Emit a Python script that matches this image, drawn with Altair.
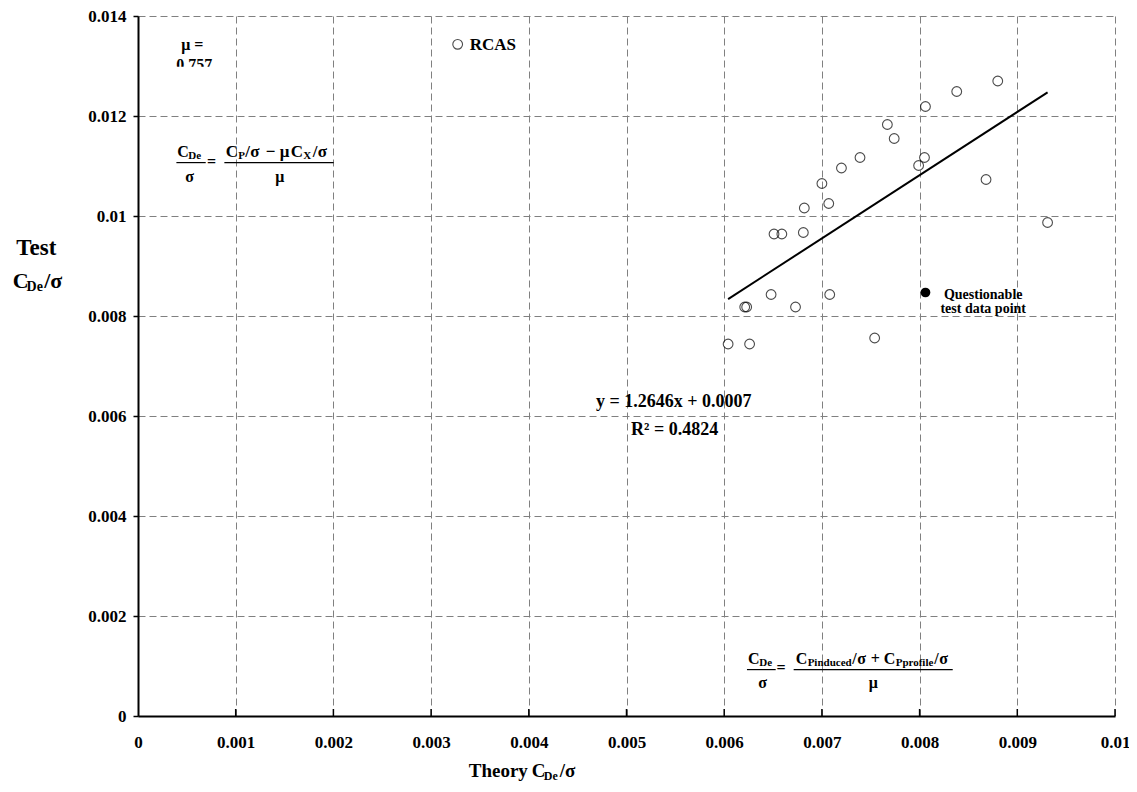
import altair as alt
import pandas as pd

# ---- data ----
theory_x = [0.00880, 0.00838, 0.00806, 0.00767, 0.00774, 0.00739, 0.00805, 0.00799,
            0.00720, 0.00868, 0.00700, 0.00707, 0.00682, 0.00931, 0.00651, 0.00659,
            0.00681, 0.00648, 0.00708, 0.00621, 0.00623, 0.00673, 0.00604, 0.00626,
            0.00754]
test_y = [0.01270, 0.01249, 0.01219, 0.01183, 0.01155, 0.01117, 0.01117, 0.01101,
          0.01096, 0.01073, 0.01065, 0.01025, 0.01016, 0.00987, 0.00964, 0.00964,
          0.00967, 0.00843, 0.00843, 0.00818, 0.00818, 0.00818, 0.00744, 0.00744,
          0.00756]
questionable_x = [0.00806]
questionable_y = [0.00847]
slope = 1.2646
intercept = 0.0007
x_ticks = [0, 0.001, 0.002, 0.003, 0.004, 0.005, 0.006, 0.007, 0.008, 0.009, 0.01]
y_ticks = [0, 0.002, 0.004, 0.006, 0.008, 0.010, 0.012, 0.014]

FONT = "Liberation Serif"
W, H = 977, 700
X_DOM = [0, 0.01]
Y_DOM = [0, 0.014]
xs = alt.Scale(domain=X_DOM, nice=False, zero=False)
ys = alt.Scale(domain=Y_DOM, nice=False, zero=False)


def px(v):
    return (v - X_DOM[0]) / (X_DOM[1] - X_DOM[0]) * W


def py(v):
    return H - (v - Y_DOM[0]) / (Y_DOM[1] - Y_DOM[0]) * H


x_axis = alt.Axis(values=x_ticks, format="~g", title=None, grid=True, ticks=False,
                  labelPadding=18)
y_axis = alt.Axis(values=y_ticks, format="~g", title=None, grid=True, ticks=True,
                  tickSize=5, labelPadding=7)

pts = pd.DataFrame({"x": theory_x, "y": test_y})
qpts = pd.DataFrame({"x": questionable_x, "y": questionable_y})
line_df = pd.DataFrame({"x": [min(theory_x), max(theory_x)]})
tick_df = pd.DataFrame({"x": x_ticks[1:]})

one = alt.Data(values=[{}])


def txt(x, y, s, size=16, align="left"):
    return alt.Chart(one).mark_text(
        text=s, font=FONT, fontSize=size, fontWeight="bold", align=align,
        baseline="alphabetic", color="black"
    ).encode(x=alt.value(px(x)), y=alt.value(py(y)))


def bar(x1, x2, y):
    return alt.Chart(one).mark_rule(color="black", strokeWidth=1.2).encode(
        x=alt.value(px(x1)), x2=alt.value(px(x2)), y=alt.value(py(y)))


scatter = alt.Chart(pts).mark_point(
    shape="circle", filled=False, color="black", size=95, strokeWidth=1.1
).encode(
    x=alt.X("x:Q", scale=xs, axis=x_axis),
    y=alt.Y("y:Q", scale=ys, axis=y_axis),
)

qscatter = alt.Chart(qpts).mark_point(
    shape="circle", filled=True, color="black", size=95, opacity=1
).encode(x=alt.X("x:Q", scale=xs), y=alt.Y("y:Q", scale=ys))

trend = alt.Chart(line_df).transform_calculate(
    y=f"{slope} * datum.x + {intercept}"
).mark_line(color="black", strokeWidth=2).encode(
    x=alt.X("x:Q", scale=xs), y=alt.Y("y:Q", scale=ys))

inner_ticks = alt.Chart(tick_df).mark_rule(color="black", strokeWidth=1.5).encode(
    x=alt.X("x:Q", scale=xs), y=alt.value(H), y2=alt.value(H - 7))

legend_pt = alt.Chart(one).mark_point(
    shape="circle", filled=False, color="black", size=95, strokeWidth=1.1
).encode(x=alt.value(px(0.003272)), y=alt.value(py(0.013434)))

cover = alt.Chart(one).mark_rect(color="white").encode(
    x=alt.value(px(0.000345)), x2=alt.value(px(0.000857)),
    y=alt.value(py(0.012984)), y2=alt.value(py(0.012714)))

layers = [scatter, inner_ticks, trend, qscatter, legend_pt,
          txt(0.003395, 0.013314, "RCAS", 17),
          txt(0.000555, 0.013314, "μ =", 16, "center"),
          txt(0.000575, 0.012914, "0.757", 16, "center"),
          cover,
          # formula 1
          txt(0.000403, 0.011174, "C", 16),
          txt(0.000515, 0.011134, "De", 11),
          bar(0.000393, 0.000693, 0.011068),
          txt(0.000529, 0.010674, "σ", 16, "center"),
          txt(0.000754, 0.010974, "=", 16, "center"),
          txt(0.000898, 0.011174, "C", 17),
          txt(0.001026, 0.011134, "P", 11),
          txt(0.001097, 0.011174, "/", 17),
          txt(0.001148, 0.011174, "σ", 17),
          txt(0.001307, 0.011174, "−", 17),
          txt(0.001450, 0.011174, "μ", 17),
          txt(0.001563, 0.011174, "C", 17),
          txt(0.001691, 0.011134, "X", 11),
          txt(0.001788, 0.011174, "/", 17),
          txt(0.001839, 0.011174, "σ", 17),
          bar(0.000884, 0.002003, 0.011068),
          txt(0.001450, 0.010674, "μ", 16, "center"),
          # formula 2
          txt(0.006244, 0.001034, "C", 16),
          txt(0.006360, 0.000994, "De", 11),
          bar(0.006233, 0.006527, 0.000928),
          txt(0.006394, 0.000554, "σ", 16, "center"),
          txt(0.006583, 0.000854, "=", 16, "center"),
          txt(0.006732, 0.001034, "C", 16),
          txt(0.006854, 0.000994, "Pinduced", 11),
          txt(0.007310, 0.001034, "/", 16),
          txt(0.007361, 0.001034, "σ", 16),
          txt(0.007500, 0.001034, "+", 16),
          txt(0.007633, 0.001034, "C", 16),
          txt(0.007755, 0.000994, "Pprofile", 11),
          txt(0.008149, 0.001034, "/", 16),
          txt(0.008201, 0.001034, "σ", 16),
          bar(0.006711, 0.008339, 0.000928),
          txt(0.007525, 0.000554, "μ", 16, "center"),
          # regression text
          txt(0.005483, 0.006180, "y = 1.2646x + 0.0007", 18, "center"),
          txt(0.005493, 0.005614, "R² = 0.4824", 18, "center"),
          # questionable
          txt(0.008651, 0.008348, "Questionable", 14, "center"),
          txt(0.008651, 0.008054, "test data point", 14, "center"),
          # y title
          txt(-0.001040, 0.009214, "Test", 23, "center"),
          txt(-0.001283, 0.008554, "C", 22),
          txt(-0.001140, 0.008494, "De", 14),
          txt(-0.000960, 0.008554, "/σ", 22),
          # x title
          txt(0.003385, -0.001226, "Theory", 19),
          txt(0.004030, -0.001226, "C", 19),
          txt(0.004153, -0.001286, "De", 12),
          txt(0.004317, -0.001226, "/σ", 19),
          ]

chart = alt.layer(*layers).properties(
    width=W, height=H,
    padding={"left": 130, "top": 8, "right": 14, "bottom": 68},
    autosize=alt.AutoSizeParams(type="none"),
    background="white",
).configure_view(stroke=None).configure_axis(
    gridDash=[7, 4], gridColor="#808080", gridWidth=1, gridOpacity=1,
    tickColor="black", tickWidth=1.5,
    labelFont=FONT, labelFontSize=17, labelFontWeight="bold", labelColor="black",
    domainColor="black", domainWidth=2, labelFlush=False, labelOverlap=False,
)

chart.save("out.html", embed_options={"renderer": "svg", "actions": False})
